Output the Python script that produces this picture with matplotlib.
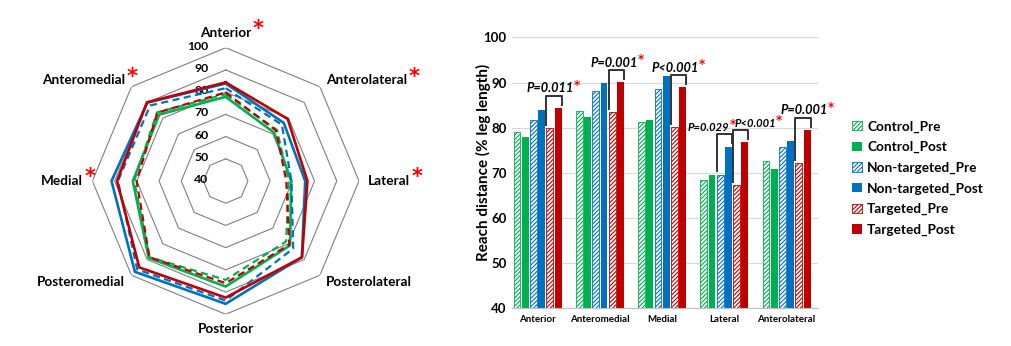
import numpy as np
import matplotlib.pyplot as plt
from matplotlib.patches import Patch

plt.rcParams['font.family'] = ['Lato', 'DejaVu Sans']
plt.rcParams['hatch.linewidth'] = 0.8

# reach directions, clockwise from the top of the star
directions = ['Anterior', 'Anterolateral', 'Lateral', 'Posterolateral',
              'Posterior', 'Posteromedial', 'Medial', 'Anteromedial']
star_dirs = ['Anterior', 'Anterolateral', 'Lateral', 'Medial', 'Anteromedial']
bar_dirs = ['Anterior', 'Anteromedial', 'Medial', 'Lateral', 'Anterolateral']

series_names = ['Control_Pre', 'Control_Post', 'Non-targeted_Pre',
                'Non-targeted_Post', 'Targeted_Pre', 'Targeted_Post']
control_pre = [79.1, 72.6, 68.4, 78.5, 84.5, 88.5, 81.2, 83.7]
control_post = [77.9, 70.8, 69.5, 81.0, 87.5, 89.0, 81.8, 82.3]
nontarget_pre = [81.8, 75.8, 69.6, 83.0, 93.8, 96.3, 88.5, 88.1]
nontarget_post = [83.9, 77.0, 75.8, 88.5, 95.3, 97.8, 91.4, 89.9]
target_pre = [79.9, 72.1, 67.3, 80.5, 86.0, 88.5, 80.1, 83.5]
target_post = [84.4, 79.5, 76.8, 88.6, 92.5, 95.0, 88.9, 90.1]
series = [control_pre, control_post, nontarget_pre,
          nontarget_post, target_pre, target_post]

colors = ['#00B050', '#00B050', '#0070C0', '#0070C0', '#C00000', '#C00000']
is_pre = [True, False, True, False, True, False]
ring_ticks = [40, 50, 60, 70, 80, 90, 100]

# pre vs post comparisons: (direction, first series, second series, label)
p_tests = [('Anterior', 4, 5, 'P=0.011'),
           ('Anteromedial', 4, 5, 'P=0.001'),
           ('Medial', 4, 5, 'P<0.001'),
           ('Lateral', 2, 3, 'P=0.029'),
           ('Lateral', 4, 5, 'P<0.001'),
           ('Anterolateral', 4, 5, 'P=0.001')]
p_shift = [-0.06, -0.04, -0.05, -0.25, 0.23, 0.02]
p_size = [9.2, 9.2, 9.2, 8.0, 8.0, 9.2]

fig = plt.figure(figsize=(10.12, 3.46), dpi=100)

# ---- radar (star excursion) chart ----
rad = fig.add_axes([0.0913, 0.0916, 0.2634, 0.7705], projection='polar')
rad.set_theta_zero_location('N')
rad.set_theta_direction(-1)
rad.set_ylim(ring_ticks[0], ring_ticks[-1])
rad.grid(False)
rad.spines['polar'].set_visible(False)
rad.set_xticks([])
rad.set_yticks([])

theta = np.arange(len(directions)) * 2 * np.pi / len(directions)
closed = np.append(theta, theta[0])

for v in ring_ticks[1:]:
    rad.plot(closed, [v] * len(closed), color='#808080', lw=0.8, zorder=1)
for v in ring_ticks:
    rad.annotate(str(v), xy=(0, v), xytext=(-12.5, 1), textcoords='offset points',
                 ha='right', va='center', fontsize=8.8, fontweight='bold')

for vals, c, pre in zip(series, colors, is_pre):
    line, = rad.plot(closed, vals + [vals[0]], color=c, lw=1.9, zorder=3)
    if pre:
        line.set_linestyle((0, (3.2, 2.0)))
        line.set_linewidth(1.6)

for k, name in enumerate(directions):
    s, co = np.sin(theta[k]), np.cos(theta[k])
    ha = 'left' if s > 0.1 else ('right' if s < -0.1 else 'center')
    if abs(s) > 0.1:
        va = 'center'
    else:
        va = 'bottom' if co > 0 else 'top'
    lab = rad.annotate(name, xy=(theta[k], 100), xytext=(6.5 * s, 6.5 * co),
                       textcoords='offset points', ha=ha, va=va,
                       fontsize=9.8, fontweight='bold', annotation_clip=False)
    if name in star_dirs:
        rad.annotate('*', xy=(1, 0.8), xycoords=lab, xytext=(1, 0),
                     textcoords='offset points', ha='left', va='center',
                     color='red', fontsize=15, fontweight='bold',
                     family='DejaVu Sans')

# ---- grouped bar chart ----
bx = fig.add_axes([0.506, 0.109, 0.302, 0.783])
x = np.arange(len(bar_dirs))
step, width = 0.1322, 0.1106
idx = [directions.index(d) for d in bar_dirs]

handles = []
for j, (vals, c, pre, name) in enumerate(zip(series, colors, is_pre, series_names)):
    h = [vals[i] for i in idx]
    if pre:
        bx.bar(x + (j - 2.5) * step, h, width, color='white', edgecolor=c,
               hatch='////////', lw=0.6, zorder=2)
        handles.append(Patch(facecolor='white', edgecolor=c, hatch='////////',
                             lw=0.6, label=name))
    else:
        bx.bar(x + (j - 2.5) * step, h, width, color=c, lw=0, zorder=2)
        handles.append(Patch(facecolor=c, lw=0, label=name))

for (d, j0, j1, label), sh, fs in zip(p_tests, p_shift, p_size):
    i = bar_dirs.index(d)
    k = directions.index(d)
    y0, y1 = series[j0][k], series[j1][k]
    top = max(series[j][k] for j in range(j0, j1 + 1)) + 2.7
    left = i + (j0 - 2.5) * step - width / 2
    right = i + (j1 - 2.5) * step + width / 2
    bx.plot([left, left, right, right], [y0 + 0.7, top, top, y1 + 0.7],
            color='#333333', lw=1.4, zorder=3)
    t = bx.text((left + right) / 2 + sh, top + 0.3, label, ha='center', va='bottom',
                fontsize=fs, fontweight='bold', fontstyle='italic')
    bx.annotate('*', xy=(1, 0.75), xycoords=t, xytext=(0, 0),
                textcoords='offset points', ha='left', va='center',
                color='red', fontsize=8.5, fontweight='bold', family='DejaVu Sans')

bx.set_xlim(-0.41, 4.5)
bx.set_ylim(40, 100)
bx.set_yticks(ring_ticks)
bx.set_xticks(x)
bx.set_xticklabels(bar_dirs, fontsize=7, fontweight='bold')
for lab in bx.get_yticklabels():
    lab.set_fontsize(9.5)
    lab.set_fontweight('bold')
bx.tick_params(length=0)
bx.tick_params(axis='x', pad=5)
bx.tick_params(axis='y', pad=4)
bx.yaxis.grid(True, color='#D9D9D9', lw=0.8, zorder=0)
bx.set_axisbelow(True)
for side in ['left', 'right', 'top']:
    bx.spines[side].set_visible(False)
bx.spines['bottom'].set_color('#BFBFBF')
bx.set_ylabel('Reach distance (% leg length)', fontsize=11, fontweight='bold')
bx.yaxis.set_label_coords(-0.07, 0.54)

fig.legend(handles=handles, loc='upper left', bbox_to_anchor=(0.842, 0.652),
           frameon=False, prop={'size': 9.8, 'weight': 'bold'},
           handlelength=0.7, handleheight=0.7, handletextpad=0.4,
           labelspacing=0.62, borderpad=0, borderaxespad=0)

fig.savefig('out.png', dpi=100)
